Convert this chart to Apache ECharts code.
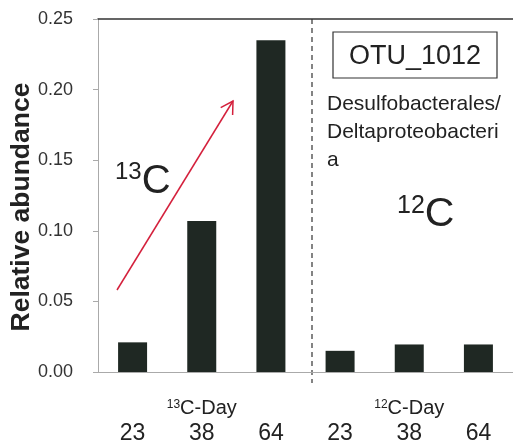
<!DOCTYPE html>
<html>
<head>
<meta charset="utf-8">
<style>
  html, body { margin: 0; padding: 0; background: #fff; }
  #chart { width: 513px; height: 446px; }
</style>
<script src="https://cdn.jsdelivr.net/npm/echarts@6/dist/echarts.min.js"></script>
</head>
<body>
<div id="chart"></div>
<script>
// Sampling days for the two incubations (13C first, then 12C)
const days = ['23', '38', '64', '23', '38', '64'];
const groupLabels = ['13C-Day', '12C-Day'];
// Relative abundance of OTU_1012 at each day
const abundance = [0.021, 0.107, 0.235, 0.015, 0.0195, 0.0195];
const yTicks = [0, 0.05, 0.10, 0.15, 0.20, 0.25];

const FONT = '"Liberation Sans", Arial, sans-serif';
const chart = echarts.init(document.getElementById('chart'), null, { renderer: 'canvas' });

// Arrow showing the rise in the 13C incubation
const arrowFrom = [117, 290];
const arrowTo = [233, 101];
function arrowHead(from, to, len, ang) {
  const dx = from[0] - to[0], dy = from[1] - to[1];
  const d = Math.hypot(dx, dy);
  const ux = dx / d, uy = dy / d;
  const rot = a => [to[0] + len * (ux * Math.cos(a) - uy * Math.sin(a)),
                    to[1] + len * (ux * Math.sin(a) + uy * Math.cos(a))];
  return [rot(ang), to, rot(-ang)];
}

const sup = { fontSize: 12, lineHeight: 24, verticalAlign: 'top', padding: [3, 0, 0, 0], color: '#222', fontFamily: FONT };

chart.setOption({
  animation: false,
  backgroundColor: '#fff',
  grid: { left: 98, right: -5, top: 19, bottom: 74 },
  xAxis: [{
    type: 'category',
    data: days,
    position: 'bottom',
    axisLine: { lineStyle: { color: '#aaa', width: 1 } },
    axisTick: { length: 5, lineStyle: { color: '#aaa' }, interval: 0 },
    axisLabel: {
      interval: 0,
      margin: 24,
      formatter: function (v, i) {
        const g = (i === 1 || i === 4) ? groupLabels[i === 1 ? 0 : 1] : null;
        const top = g ? '{sup|' + g.slice(0, 2) + '}{g|' + g.slice(2) + '}' : '{g| }';
        return top + '\n{n|' + v + '}';
      },
      rich: {
        sup: sup,
        g: { fontSize: 20, lineHeight: 24, color: '#222', fontFamily: FONT },
        n: { fontSize: 23, lineHeight: 28, color: '#222', fontFamily: FONT }
      }
    }
  }, {
    type: 'category',
    data: days,
    position: 'top',
    axisLine: { lineStyle: { color: '#333', width: 1.5 } },
    axisTick: { show: false },
    axisLabel: { show: false }
  }],
  yAxis: {
    type: 'value',
    min: yTicks[0],
    max: yTicks[yTicks.length - 1],
    interval: 0.05,
    axisLine: { show: true, lineStyle: { color: '#aaa' } },
    axisTick: { show: true, length: 5, lineStyle: { color: '#aaa' } },
    splitLine: { show: false },
    axisLabel: {
      margin: 25,
      fontSize: 18,
      color: '#333',
      fontFamily: FONT,
      formatter: v => v.toFixed(2)
    }
  },
  series: [{
    type: 'bar',
    data: abundance,
    barWidth: 29,
    itemStyle: { color: '#1f2823' }
  }],
  graphic: [
    // axis title
    {
      type: 'text', x: 22, y: 207, rotation: Math.PI / 2,
      style: { text: 'Relative abundance', fontSize: 26.5, fontWeight: 'bold', fill: '#222',
               fontFamily: FONT, align: 'center', verticalAlign: 'middle' }
    },
    // divider between the two incubations
    {
      type: 'line', shape: { x1: 312, y1: 19, x2: 312, y2: 383 },
      style: { stroke: '#333', lineWidth: 1.2, lineDash: [5, 4] }
    },
    // OTU label box
    {
      type: 'rect', shape: { x: 333, y: 32, width: 164, height: 46 },
      style: { fill: '#fff', stroke: '#333', lineWidth: 1.2 }
    },
    {
      type: 'text', x: 415, y: 57,
      style: { text: 'OTU_1012', fontSize: 27, fill: '#222', fontFamily: FONT,
               align: 'center', verticalAlign: 'middle' }
    },
    {
      type: 'text', x: 327, y: 90,
      style: { text: 'Desulfobacterales/\nDeltaproteobacteri\na', fontSize: 21, lineHeight: 28,
               fill: '#222', fontFamily: FONT, verticalAlign: 'top' }
    },
    // isotope tags
    {
      type: 'text', x: 115, y: 160.5,
      style: {
        text: '{s|13}{c|C}', verticalAlign: 'top',
        rich: {
          s: { fontSize: 24, lineHeight: 22, verticalAlign: 'top', fill: '#222', fontFamily: FONT },
          c: { fontSize: 40, lineHeight: 42, fill: '#222', fontFamily: FONT }
        }
      }
    },
    {
      type: 'text', x: 397, y: 193.5,
      style: {
        text: '{s|12}{c|C}', verticalAlign: 'top',
        rich: {
          s: { fontSize: 25, lineHeight: 24, verticalAlign: 'top', fill: '#222', fontFamily: FONT },
          c: { fontSize: 41, lineHeight: 42, fill: '#222', fontFamily: FONT }
        }
      }
    },
    // red trend arrow
    {
      type: 'line', shape: { x1: arrowFrom[0], y1: arrowFrom[1], x2: arrowTo[0], y2: arrowTo[1] },
      style: { stroke: '#d4203c', lineWidth: 1.5 }
    },
    {
      type: 'polyline', shape: { points: arrowHead(arrowFrom, arrowTo, 14, Math.PI / 6) },
      style: { stroke: '#d4203c', lineWidth: 1.5, fill: null }
    }
  ]
});
</script>
</body>
</html>
